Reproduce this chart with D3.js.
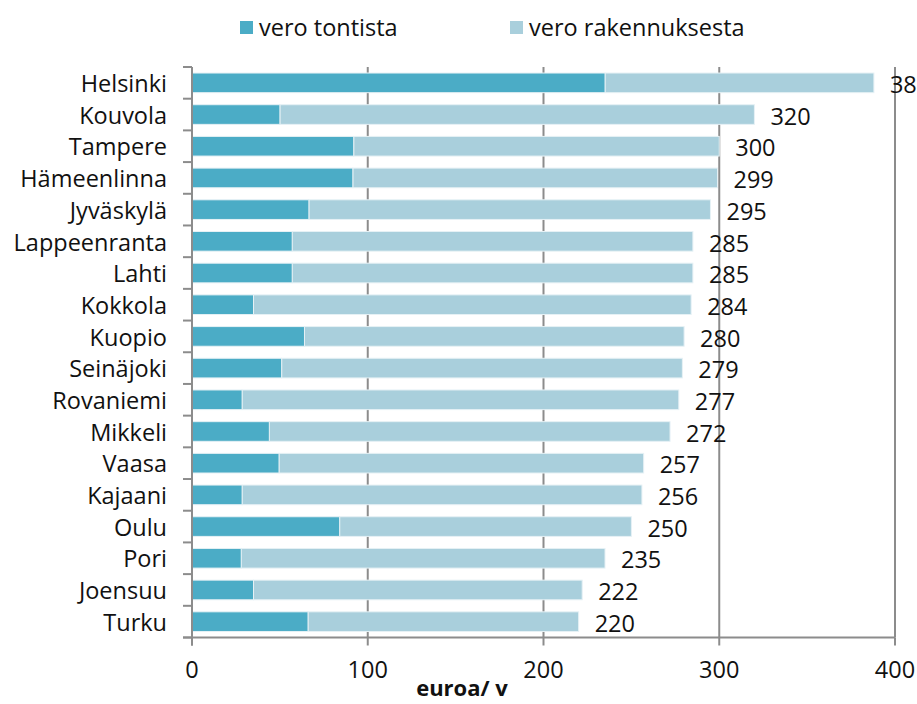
<!DOCTYPE html>
<html>
<head>
<meta charset="utf-8">
<script src="https://cdn.jsdelivr.net/npm/d3@7"></script>
<style>
  body { margin: 0; background: #fff; }
  svg { display: block; font-family: "Open Sans", sans-serif; }
</style>
</head>
<body>
<div id="chart"></div>
<script>
var width = 917;
var height = 704;

// data (euro / year)
var cities = ["Helsinki", "Kouvola", "Tampere", "Hämeenlinna", "Jyväskylä", "Lappeenranta",
  "Lahti", "Kokkola", "Kuopio", "Seinäjoki", "Rovaniemi", "Mikkeli", "Vaasa", "Kajaani",
  "Oulu", "Pori", "Joensuu", "Turku"];
var totals = [388, 320, 300, 299, 295, 285, 285, 284, 280, 279, 277, 272, 257, 256, 250, 235, 222, 220];
var tontti = [235, 50, 92, 91.5, 66.5, 57, 57, 35, 64, 51, 28.5, 44, 49.5, 28.5, 84, 28, 35, 66];
var seriesNames = ["vero tontista", "vero rakennuksesta"];
var xTicks = [0, 100, 200, 300, 400];
var colors = ["#4bacc6", "#a9cfdc"];

var rows = cities.map(function(c, i) {
  return { city: c, tontti: tontti[i], total: totals[i] };
});

var fs = 23.5;

var svg = d3.select("#chart").append("svg")
  .attr("width", width)
  .attr("height", height);

var x = d3.scaleLinear().domain([0, 400]).range([192, 895]);
var y = d3.scaleBand().domain(cities).range([67, 637.5])
  .paddingInner(0.38).paddingOuter(0.19);

var gridColor = "#8c8c8c";

// vertical gridlines
svg.append("g").selectAll("line")
  .data(xTicks.slice(1))
  .enter().append("line")
  .attr("x1", function(d){ return x(d); })
  .attr("x2", function(d){ return x(d); })
  .attr("y1", y.range()[0])
  .attr("y2", y.range()[1])
  .attr("stroke", gridColor)
  .attr("stroke-width", 2);

// bars
var G = svg.append("g");
G.selectAll("rect.rak")
  .data(rows)
  .enter().append("rect")
  .attr("class", "rak")
  .attr("x", function(d){ return x(d.tontti); })
  .attr("y", function(d){ return y(d.city); })
  .attr("width", function(d){ return x(d.total) - x(d.tontti); })
  .attr("height", y.bandwidth())
  .attr("fill", colors[1])
  .attr("stroke", "#e6f1f5")
  .attr("stroke-width", 1);

G.selectAll("rect.tont")
  .data(rows)
  .enter().append("rect")
  .attr("class", "tont")
  .attr("x", x(0))
  .attr("y", function(d){ return y(d.city); })
  .attr("width", function(d){ return x(d.tontti) - x(0); })
  .attr("height", y.bandwidth())
  .attr("fill", colors[0])
  .attr("stroke", "#e6f1f5")
  .attr("stroke-width", 1);

// value labels (Helsinki's runs off the right edge, as in the original)
G.selectAll("text.val")
  .data(rows)
  .enter().append("text")
  .attr("class", "val")
  .attr("x", function(d){ return x(d.total) + 16; })
  .attr("y", function(d){ return y(d.city) + y.bandwidth() / 2 + 2; })
  .attr("dy", "0.35em")
  .attr("font-size", fs)
  .attr("fill", "#111")
  .text(function(d){ return d.total; });

// y axis: line, ticks at band edges, labels
var step = y.step();
var edges = d3.range(cities.length + 1).map(function(i){
  return y(cities[0]) - step * y.paddingInner() / 2 + i * step;
});
svg.append("line")
  .attr("x1", x(0)).attr("x2", x(0))
  .attr("y1", y.range()[0]).attr("y2", y.range()[1] + 8)
  .attr("stroke", gridColor).attr("stroke-width", 2);
svg.append("g").selectAll("line")
  .data(edges)
  .enter().append("line")
  .attr("x1", x(0) - 9).attr("x2", x(0))
  .attr("y1", function(d){ return d; })
  .attr("y2", function(d){ return d; })
  .attr("stroke", gridColor).attr("stroke-width", 2);

svg.append("g").selectAll("text")
  .data(cities)
  .enter().append("text")
  .attr("x", 167)
  .attr("y", function(d){ return y(d) + y.bandwidth() / 2 + 1; })
  .attr("dy", "0.35em")
  .attr("text-anchor", "end")
  .attr("font-size", fs)
  .attr("fill", "#111")
  .text(function(d){ return d; });

// x axis
svg.append("line")
  .attr("x1", x(0) - 9).attr("x2", x(400))
  .attr("y1", y.range()[1]).attr("y2", y.range()[1])
  .attr("stroke", gridColor).attr("stroke-width", 2);
var xg = svg.append("g");
xg.selectAll("line")
  .data(xTicks)
  .enter().append("line")
  .attr("x1", function(d){ return x(d); })
  .attr("x2", function(d){ return x(d); })
  .attr("y1", y.range()[1])
  .attr("y2", y.range()[1] + 8)
  .attr("stroke", gridColor).attr("stroke-width", 2);
xg.selectAll("text")
  .data(xTicks)
  .enter().append("text")
  .attr("x", function(d){ return x(d); })
  .attr("y", 670)
  .attr("dy", "0.35em")
  .attr("text-anchor", "middle")
  .attr("font-size", fs)
  .attr("fill", "#111")
  .text(function(d){ return d; });

svg.append("text")
  .attr("x", 462)
  .attr("y", 688)
  .attr("dy", "0.35em")
  .attr("text-anchor", "middle")
  .attr("font-size", 22)
  .attr("font-weight", "bold")
  .attr("fill", "#111")
  .text("euroa/ v");

// legend
var legendX = [240, 510];
var legend = svg.append("g").selectAll("g")
  .data(seriesNames)
  .enter().append("g")
  .attr("transform", function(d, i){ return "translate(" + legendX[i] + ",21)"; });
legend.append("rect")
  .attr("width", 13).attr("height", 13)
  .attr("fill", function(d, i){ return colors[i]; });
legend.append("text")
  .attr("x", 19)
  .attr("y", 7)
  .attr("dy", "0.35em")
  .attr("font-size", fs)
  .attr("fill", "#111")
  .text(function(d){ return d; });
</script>
</body>
</html>
